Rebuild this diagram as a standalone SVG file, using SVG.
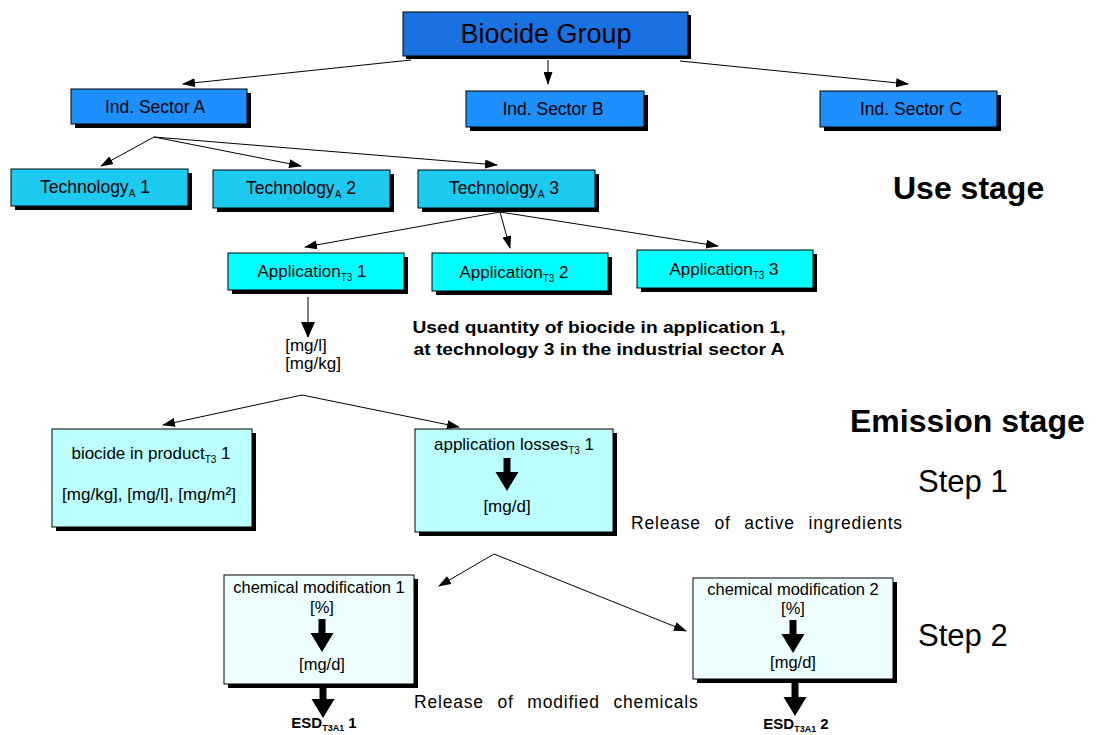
<svg xmlns="http://www.w3.org/2000/svg" xmlns:xlink="http://www.w3.org/1999/xlink" width="1096" height="735" viewBox="0 0 1096 735">
<style>
text{font-family:"Liberation Sans",Arial,sans-serif;fill:#000}
.c{text-anchor:middle}
.b{font-weight:bold}
.box{stroke:#000;stroke-width:1}
.sh{fill:#000}
.con line{stroke:#000;stroke-width:1;marker-end:url(#ah)}
.sub{font-size:10px}
.sec{font-size:17.5px}
.tec{font-size:17.5px}
.app{font-size:17px}
.em{font-size:17px}
.cm{font-size:16.5px}
.rel{font-size:17.5px;letter-spacing:0.8px;word-spacing:8px}
.esd{font-size:15px;font-weight:bold}
</style>
<defs>
<marker id="ah" markerUnits="userSpaceOnUse" markerWidth="13" markerHeight="9" refX="12" refY="4.5" orient="auto">
<path d="M0,0 L13,4.5 L0,9 z" fill="#000"/>
</marker>
<marker id="ahb" markerUnits="userSpaceOnUse" markerWidth="16" markerHeight="14" refX="15" refY="7" orient="auto">
<path d="M0,0 L16,7 L0,14 z" fill="#000"/>
</marker>
<path id="thick" d="M-3.5,0 L3.5,0 L3.5,14 L11.5,14 L0,33 L-11.5,14 L-3.5,14 z" fill="#000"/>
</defs>
<rect width="1096" height="735" fill="#fff"/>

<g class="con">
<line x1="411" y1="60" x2="183" y2="84"/>
<line x1="548" y1="60" x2="548" y2="84"/>
<line x1="680" y1="61" x2="908" y2="84"/>
<line x1="154" y1="137" x2="101" y2="166"/>
<line x1="154" y1="137" x2="301" y2="166"/>
<line x1="154" y1="137" x2="497" y2="165"/>
<line x1="500" y1="212" x2="305" y2="247"/>
<line x1="500" y1="212" x2="510" y2="248"/>
<line x1="500" y1="212" x2="718" y2="246"/>
<line x1="308" y1="297" x2="308" y2="337" style="marker-end:url(#ahb)"/>
<line x1="302" y1="395" x2="163" y2="425"/>
<line x1="302" y1="395" x2="459" y2="427"/>
<line x1="494" y1="554" x2="439" y2="586"/>
<line x1="494" y1="554" x2="686" y2="631"/>
</g>

<g id="biocide-group">
<rect class="sh" x="406" y="15" width="285" height="44"/>
<rect class="box" x="403" y="12" width="285" height="44" fill="#1a72e2"/>
<text class="c" x="546" y="43" font-size="27">Biocide Group</text>
</g>

<g id="sector-a">
<rect class="sh" x="75" y="93" width="176" height="35"/>
<rect class="box" x="71" y="89" width="176" height="35" fill="#1e8ffe"/>
<text class="c sec" x="155" y="113">Ind. Sector A</text>
</g>
<g id="sector-b">
<rect class="sh" x="470" y="95" width="178" height="36"/>
<rect class="box" x="466" y="91" width="178" height="36" fill="#1e8ffe"/>
<text class="c sec" x="553" y="115">Ind. Sector B</text>
</g>
<g id="sector-c">
<rect class="sh" x="824" y="95" width="177" height="36"/>
<rect class="box" x="820" y="91" width="177" height="36" fill="#1e8ffe"/>
<text class="c sec" x="911" y="115">Ind. Sector C</text>
</g>

<g id="tech-1">
<rect class="sh" x="15" y="173" width="177" height="37"/>
<rect class="box" x="11" y="169" width="177" height="37" fill="#1ccaf0"/>
<text class="c tec" x="95" y="193">Technology<tspan class="sub" dy="4">A</tspan><tspan dy="-4"> 1</tspan></text>
</g>
<g id="tech-2">
<rect class="sh" x="217" y="174" width="177" height="38"/>
<rect class="box" x="213" y="170" width="177" height="38" fill="#1ccaf0"/>
<text class="c tec" x="301" y="194">Technology<tspan class="sub" dy="4">A</tspan><tspan dy="-4"> 2</tspan></text>
</g>
<g id="tech-3">
<rect class="sh" x="422" y="174" width="177" height="38"/>
<rect class="box" x="418" y="170" width="177" height="38" fill="#1ccaf0"/>
<text class="c tec" x="504" y="194">Technology<tspan class="sub" dy="4">A</tspan><tspan dy="-4"> 3</tspan></text>
</g>

<g id="app-1">
<rect class="sh" x="232" y="257" width="176" height="37"/>
<rect class="box" x="228" y="253" width="176" height="37" fill="#00ffff"/>
<text class="c app" x="312" y="277">Application<tspan class="sub" dy="4">T3</tspan><tspan dy="-4"> 1</tspan></text>
</g>
<g id="app-2">
<rect class="sh" x="436" y="257" width="176" height="38"/>
<rect class="box" x="432" y="253" width="176" height="38" fill="#00ffff"/>
<text class="c app" x="514" y="278">Application<tspan class="sub" dy="4">T3</tspan><tspan dy="-4"> 2</tspan></text>
</g>
<g id="app-3">
<rect class="sh" x="641" y="254" width="176" height="38"/>
<rect class="box" x="637" y="250" width="176" height="38" fill="#00ffff"/>
<text class="c app" x="724" y="275">Application<tspan class="sub" dy="4">T3</tspan><tspan dy="-4"> 3</tspan></text>
</g>

<g id="app1-units">
<text class="c" x="306" y="351" font-size="17">[mg/l]</text>
<text class="c" x="313" y="369" font-size="17">[mg/kg]</text>
</g>
<g id="note">
<text class="c b" x="599" y="333" font-size="17" textLength="373" lengthAdjust="spacingAndGlyphs">Used quantity of biocide in application 1,</text>
<text class="c b" x="599" y="355" font-size="17" textLength="371" lengthAdjust="spacingAndGlyphs">at technology 3 in the industrial sector A</text>
</g>

<g id="labels">
<text class="b" x="893" y="199" font-size="32">Use stage</text>
<text class="b" x="850" y="432" font-size="32">Emission stage</text>
<text x="918" y="492" font-size="31">Step 1</text>
<text x="918" y="646" font-size="31">Step 2</text>
<text class="rel" x="631" y="529">Release of active ingredients</text>
<text class="rel" x="414" y="708">Release of modified chemicals</text>
</g>

<g id="biocide-in-product">
<rect class="sh" x="56" y="433" width="200" height="98"/>
<rect class="box" x="52" y="429" width="200" height="98" fill="#bbffff"/>
<text class="c em" x="151" y="459">biocide in product<tspan class="sub" dy="4">T3</tspan><tspan dy="-4"> 1</tspan></text>
<text class="c em" x="149" y="500">[mg/kg], [mg/l], [mg/m²]</text>
</g>

<g id="application-losses">
<rect class="sh" x="419" y="433" width="198" height="103"/>
<rect class="box" x="415" y="429" width="198" height="103" fill="#bbffff"/>
<text class="c em" x="514" y="450">application losses<tspan class="sub" dy="4">T3</tspan><tspan dy="-4"> 1</tspan></text>
<use xlink:href="#thick" x="507" y="458"/>
<text class="c em" x="507" y="512">[mg/d]</text>
</g>

<g id="chem-mod-1">
<rect class="sh" x="228" y="579" width="190" height="109"/>
<rect class="box" x="224" y="575" width="190" height="109" fill="#eeffff"/>
<text class="c cm" x="319" y="593">chemical modification 1</text>
<text class="c cm" x="322" y="613">[%]</text>
<use xlink:href="#thick" x="322" y="619"/>
<text class="c cm" x="322" y="670">[mg/d]</text>
</g>
<g id="esd-1">
<use xlink:href="#thick" x="323" y="685"/>
<text class="c esd" x="324" y="728">ESD<tspan font-size="9" dy="3">T3A1</tspan><tspan dy="-3"> 1</tspan></text>
</g>

<g id="chem-mod-2">
<rect class="sh" x="697" y="582" width="200" height="101"/>
<rect class="box" x="693" y="578" width="200" height="101" fill="#eeffff"/>
<text class="c cm" x="793" y="595">chemical modification 2</text>
<text class="c cm" x="793" y="614">[%]</text>
<use xlink:href="#thick" x="793" y="620"/>
<text class="c cm" x="793" y="668">[mg/d]</text>
</g>
<g id="esd-2">
<use xlink:href="#thick" x="795" y="683"/>
<text class="c esd" x="796" y="729">ESD<tspan font-size="9" dy="3">T3A1</tspan><tspan dy="-3"> 2</tspan></text>
</g>
</svg>
